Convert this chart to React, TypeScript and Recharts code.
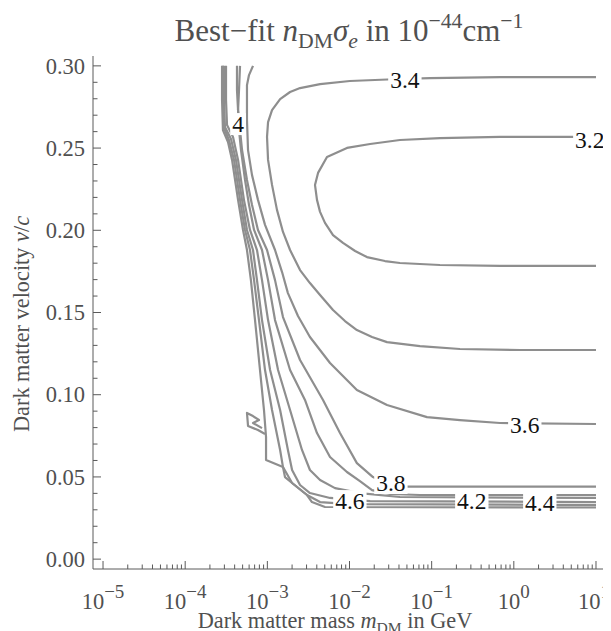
import React from 'react';
import { ScatterChart, Scatter, XAxis, YAxis } from 'recharts';

const W = 603;
const H = 623;
const FONT = "'Liberation Serif', 'Times New Roman', Times, serif";
const TEXT = '#505050';
const FRAME = '#5a5a5a';
const LINE = '#8e8e8e';

// axis domains (mass in GeV, velocity in c)
const MASS_DOMAIN = [7.55e-6, 13.24];
const VEL_DOMAIN = [-0.006, 0.306];

// tick definitions
const majorMasses = [1e-5, 1e-4, 1e-3, 1e-2, 1e-1, 1, 10];
const majorMassExp = ['\u22125', '\u22124', '\u22123', '\u22122', '\u22121', '0', '1'];
const minorMultipliers = [2, 3, 4, 5, 6, 7, 8, 9];
const velTicks = [0, 0.01, 0.02, 0.03, 0.04, 0.05, 0.06, 0.07, 0.08, 0.09, 0.1, 0.11, 0.12, 0.13, 0.14, 0.15, 0.16, 0.17, 0.18, 0.19, 0.2, 0.21, 0.22, 0.23, 0.24, 0.25, 0.26, 0.27, 0.28, 0.29, 0.3];
const velMajor = [0, 0.05, 0.1, 0.15, 0.2, 0.25, 0.3];
const velMajorLabels = ['0.00', '0.05', '0.10', '0.15', '0.20', '0.25', '0.30'];

// contour 3.2
const c32Mass = [10, 0.678, 0.126, 0.0411, 0.0178, 0.00931, 0.00532, 0.00414, 0.0038, 0.00402, 0.00438, 0.00503, 0.0063, 0.00833, 0.0117, 0.0163, 0.027, 0.0411, 0.126, 0.678, 10];
const c32Vel = [0.2568, 0.2568, 0.2561, 0.2549, 0.2525, 0.2501, 0.2446, 0.2349, 0.2276, 0.2185, 0.2112, 0.2045, 0.1971, 0.1923, 0.1874, 0.1837, 0.1813, 0.1801, 0.1789, 0.1783, 0.1783];
// contour 3.4
const c34Mass = [10, 0.678, 0.0955, 0.0411, 0.0101, 0.00438, 0.0025, 0.00189, 0.00143, 0.00114, 0.00102, 0.000991, 0.00102, 0.00114, 0.00131, 0.00155, 0.00189, 0.0025, 0.0033, 0.00438, 0.0063, 0.00881, 0.0123, 0.0188, 0.0286, 0.0721, 0.221, 1.19, 10];
const c34Vel = [0.2932, 0.2932, 0.2926, 0.292, 0.2908, 0.2889, 0.2865, 0.2841, 0.2798, 0.2731, 0.2658, 0.2568, 0.2428, 0.2276, 0.2124, 0.199, 0.188, 0.1758, 0.1679, 0.1606, 0.1515, 0.1448, 0.1393, 0.1351, 0.132, 0.1296, 0.1278, 0.1272, 0.1272];
// contour 3.6
const c36Mass = [6.69e-4, 5.98e-4, 5.65e-4, 5.65e-4, 5.65e-4, 5.82e-4, 6.5e-4, 7.69e-4, 9.37e-4, 1.24e-3, 1.51e-3, 1.78e-3, 2.36e-3, 3.3e-3, 5.79e-3, 1.23e-2, 2.86e-2, 8.77e-2, 0.221, 0.678, 10];
const c36Vel = [0.3, 0.2944, 0.2883, 0.2835, 0.2671, 0.2488, 0.2337, 0.2185, 0.2033, 0.188, 0.1746, 0.1618, 0.1479, 0.1351, 0.1193, 0.1029, 0.0937, 0.0864, 0.0846, 0.0828, 0.0822];
// contour 3.8
const c38Mass = [4.65e-4, 4.52e-4, 4.4e-4, 4.65e-4, 4.92e-4, 5.65e-4, 6.5e-4, 7.69e-4, 9.91e-4, 1.24e-3, 1.55e-3, 2.5e-3, 4.76e-3, 7.66e-3, 1.23e-2, 1.93e-2, 3.11e-2, 5.01e-2, 0.678, 10];
const c38Vel = [0.3, 0.2853, 0.2731, 0.261, 0.2488, 0.2306, 0.2155, 0.2002, 0.188, 0.1697, 0.1472, 0.1211, 0.0968, 0.0767, 0.0584, 0.0499, 0.0451, 0.0441, 0.0441, 0.0441];
// contour 4.0
const c40Mass = [4.27e-4, 4.27e-4, 4.4e-4, 4.52e-4, 4.78e-4, 5.35e-4, 5.98e-4, 6.89e-4, 8.61e-4, 1.02e-3, 1.24e-3, 1.89e-3, 2.87e-3, 4.02e-3, 5.79e-3, 9.31e-3, 1.34e-2, 1.88e-2, 3.11e-2, 7.21e-2, 10];
const c40Vel = [0.3, 0.2853, 0.2731, 0.261, 0.2488, 0.2306, 0.2155, 0.2002, 0.188, 0.1697, 0.1454, 0.115, 0.0968, 0.0767, 0.0621, 0.053, 0.0475, 0.042, 0.0396, 0.039, 0.039];
// contour 4.2
const c42Mass = [3.14e-4, 3.14e-4, 3.23e-4, 3.82e-4, 4.4e-4, 5.19e-4, 6.15e-4, 7.48e-4, 8.61e-4, 1.02e-3, 1.35e-3, 1.89e-3, 2.64e-3, 3.3e-3, 4.38e-3, 6.66e-3, 1.34e-2, 4.11e-2, 10];
const c42Vel = [0.3, 0.2792, 0.264, 0.2568, 0.2428, 0.2185, 0.2002, 0.188, 0.1697, 0.1454, 0.115, 0.0907, 0.0664, 0.0542, 0.0481, 0.0432, 0.0402, 0.0378, 0.0372];
// contour 4.4
const c44Mass = [2.97e-4, 2.97e-4, 3.05e-4, 3.61e-4, 4.15e-4, 4.92e-4, 5.65e-4, 6.69e-4, 7.48e-4, 8.61e-4, 1.08e-3, 1.43e-3, 1.78e-3, 2.0e-3, 2.5e-3, 3.3e-3, 5.79e-3, 1.78e-2, 10];
const c44Vel = [0.3, 0.2792, 0.2628, 0.2555, 0.2428, 0.2185, 0.2002, 0.188, 0.1697, 0.1454, 0.115, 0.0907, 0.0664, 0.0542, 0.0451, 0.0402, 0.0372, 0.0353, 0.0347];
// contour 4.6
const c46Mass = [2.88e-4, 2.88e-4, 2.97e-4, 3.41e-4, 3.93e-4, 4.65e-4, 5.35e-4, 6.15e-4, 6.89e-4, 7.91e-4, 9.37e-4, 1.14e-3, 1.43e-3, 1.55e-3, 2.0e-3, 3.04e-3, 4.38e-3, 1.01e-2, 10];
const c46Vel = [0.3, 0.2792, 0.2622, 0.2549, 0.2428, 0.2185, 0.2002, 0.188, 0.1697, 0.1454, 0.115, 0.0907, 0.0664, 0.056, 0.0463, 0.039, 0.0347, 0.0335, 0.0329];
// contour 4.8
const c48Mass = [2.81e-4, 2.81e-4, 2.88e-4, 3.32e-4, 3.72e-4, 4.4e-4, 5.06e-4, 5.65e-4, 6.31e-4, 7.08e-4, 8.14e-4, 9.1e-4, 9.64e-4, 9.64e-4, 1.55e-3, 1.64e-3, 2.0e-3, 3.04e-3, 3.49e-3, 5.03e-3, 10];
const c48Vel = [0.3, 0.2792, 0.261, 0.2537, 0.2428, 0.2185, 0.2002, 0.188, 0.1697, 0.1454, 0.115, 0.0907, 0.0743, 0.0603, 0.056, 0.0499, 0.0463, 0.039, 0.0347, 0.0317, 0.0314];
// small island near the left edge of the valid region
const c50Mass = [9.37e-4, 7.69e-4, 5.82e-4, 5.65e-4, 6.69e-4, 7.91e-4, 6.69e-4, 8.61e-4];
const c50Vel = [0.0761, 0.0785, 0.081, 0.0889, 0.087, 0.0846, 0.0828, 0.0797];

const contours = [
  { level: '3.2', mass: c32Mass, vel: c32Vel },
  { level: '3.4', mass: c34Mass, vel: c34Vel },
  { level: '3.6', mass: c36Mass, vel: c36Vel },
  { level: '3.8', mass: c38Mass, vel: c38Vel },
  { level: '4.0', mass: c40Mass, vel: c40Vel },
  { level: '4.2', mass: c42Mass, vel: c42Vel },
  { level: '4.4', mass: c44Mass, vel: c44Vel },
  { level: '4.6', mass: c46Mass, vel: c46Vel },
  { level: '4.8', mass: c48Mass, vel: c48Vel },
  { level: '5.0', mass: c50Mass, vel: c50Vel },
];

// contour labels
const labelTexts = ['3.4', '3.2', '4', '3.6', '3.8', '4.6', '4.2', '4.4'];
const labelMass = [0.0472, 8.41, 4.4e-4, 1.36, 0.0319, 0.0101, 0.308, 2.07];
const labelVel = [0.2914, 0.2549, 0.2646, 0.0816, 0.0463, 0.0353, 0.0353, 0.0341];

const massTicks: number[] = [];
majorMasses.forEach((mj) => {
  massTicks.push(mj);
  if (mj < 10) minorMultipliers.forEach((k) => massTicks.push(k * mj));
});

const majorIdx = (v: number) => majorMasses.findIndex((t) => Math.abs(v / t - 1) < 1e-6);
const velIdx = (v: number) => velMajor.findIndex((t) => Math.abs(t - v) < 1e-9);

const MAJ = 8;
const MIN = 4.5;
const FS = 22.5;
const SUP = 19;
const tStyle = { fontFamily: FONT };

const XTickBottom = (p: any) => {
  const { x, y, payload } = p;
  const i = majorIdx(Number(payload.value));
  if (i < 0) {
    return <line x1={x} x2={x} y1={y} y2={y - MIN} stroke={FRAME} strokeWidth={1} />;
  }
  const exp = majorMassExp[i];
  const supW = exp.length > 1 ? 1.064 : 0.5;
  const total = FS + supW * SUP;
  const x0 = Math.min(x - total / 2, W - 1 - total);
  return (
    <g>
      <line x1={x} x2={x} y1={y} y2={y - MAJ} stroke={FRAME} strokeWidth={1} />
      <text x={x0} y={y + 40} fontSize={FS} fill={TEXT} fontFamily={FONT} style={tStyle}>
        10
      </text>
      <text x={x0 + FS} y={y + 29} fontSize={SUP} fill={TEXT} fontFamily={FONT} style={tStyle}>
        {exp}
      </text>
    </g>
  );
};
const XTickTop = (p: any) => {
  const { x, y, payload } = p;
  const major = majorIdx(Number(payload.value)) >= 0;
  return <line x1={x} x2={x} y1={y} y2={y + (major ? MAJ : MIN)} stroke={FRAME} strokeWidth={1} />;
};
const YTickLeft = (p: any) => {
  const { x, y, payload } = p;
  const i = velIdx(payload.value);
  const major = i >= 0;
  return (
    <g>
      <line x1={x} x2={x + (major ? MAJ : MIN)} y1={y} y2={y} stroke={FRAME} strokeWidth={1} />
      {major && (
        <text x={x - 8} y={y} dy="0.34em" textAnchor="end" fontSize={FS} fill={TEXT} fontFamily={FONT} style={tStyle}>
          {velMajorLabels[i]}
        </text>
      )}
    </g>
  );
};
const YTickRight = (p: any) => {
  const { x, y, payload } = p;
  const major = velIdx(payload.value) >= 0;
  return <line x1={x} x2={x - (major ? MAJ : MIN)} y1={y} y2={y} stroke={FRAME} strokeWidth={1} />;
};

const NoDot = () => <g />;

const LabelShape = (p: any) => {
  const { cx, cy, payload } = p;
  const fs = 23.5;
  const t: string = payload.text;
  let w = 0;
  for (const ch of t) w += ch === '.' ? 0.25 : 0.5;
  const bw = w * fs + 4;
  return (
    <g>
      <rect x={cx - bw / 2} y={cy - 11} width={bw} height={22} fill="#ffffff" />
      <text x={cx} y={cy} dy="0.34em" textAnchor="middle" fontSize={fs} fill="#111" fontFamily={FONT} style={tStyle}>
        {t}
      </text>
    </g>
  );
};

export default function App() {
  const labelData = labelTexts.map((text, i) => ({ m: labelMass[i], v: labelVel[i], text }));
  return (
    <div style={{ position: 'relative', width: W, height: H, fontFamily: FONT, color: TEXT }}>
      <ScatterChart width={W} height={H} margin={{ top: 48, right: 5, bottom: 2, left: 5 }} style={{ fontFamily: FONT }}>
        <XAxis
          xAxisId="b"
          dataKey="m"
          type="number"
          scale="log"
          domain={MASS_DOMAIN}
          allowDataOverflow
          ticks={massTicks}
          interval={0}
          tick={XTickBottom}
          tickLine={false}
          tickSize={0}
          tickMargin={0}
          axisLine={{ stroke: FRAME, strokeWidth: 1 }}
          height={60}
          orientation="bottom"
        />
        <XAxis
          xAxisId="t"
          dataKey="m"
          type="number"
          scale="log"
          domain={MASS_DOMAIN}
          allowDataOverflow
          ticks={massTicks}
          interval={0}
          tick={XTickTop}
          tickLine={false}
          tickSize={0}
          tickMargin={0}
          axisLine={{ stroke: FRAME, strokeWidth: 1 }}
          height={0}
          orientation="top"
        />
        <YAxis
          yAxisId="l"
          dataKey="v"
          type="number"
          domain={VEL_DOMAIN}
          allowDataOverflow
          ticks={velTicks}
          interval={0}
          tick={YTickLeft}
          tickLine={false}
          tickSize={0}
          tickMargin={0}
          axisLine={{ stroke: FRAME, strokeWidth: 1 }}
          width={80}
          orientation="left"
        />
        <YAxis
          yAxisId="r"
          dataKey="v"
          type="number"
          domain={VEL_DOMAIN}
          allowDataOverflow
          ticks={velTicks}
          interval={0}
          tick={YTickRight}
          tickLine={false}
          tickSize={0}
          tickMargin={0}
          axisLine={{ stroke: FRAME, strokeWidth: 1 }}
          width={0}
          orientation="right"
        />
        {contours.map((c) => (
          <Scatter
            key={c.level}
            xAxisId="b"
            yAxisId="l"
            data={c.mass.map((m, i) => ({ m, v: c.vel[i] }))}
            fill={LINE}
            line={{ stroke: LINE, strokeWidth: 2.2, strokeLinejoin: 'round' }}
            lineType="joint"
            shape={NoDot}
            isAnimationActive={false}
          />
        ))}
        <Scatter
          xAxisId="b"
          yAxisId="l"
          data={labelData}
          fill="#000"
          shape={LabelShape}
          isAnimationActive={false}
        />
      </ScatterChart>
      <div
        style={{
          position: 'absolute',
          left: 41,
          width: 600,
          top: -6,
          textAlign: 'center',
          fontSize: 31,
          lineHeight: '38px',
          whiteSpace: 'nowrap',
        }}
      >
        Best{'\u2212'}fit <i>n</i>
        <span style={{ fontSize: '0.7em', verticalAlign: '-0.3em' }}>DM</span>
        <i>σ</i>
        <span style={{ fontSize: '0.7em', verticalAlign: '-0.3em' }}>
          <i>e</i>
        </span>{' '}
        in 10<span style={{ fontSize: '0.7em', verticalAlign: '0.6em' }}>{'\u2212'}44</span>cm
        <span style={{ fontSize: '0.7em', verticalAlign: '0.6em' }}>{'\u2212'}1</span>
      </div>
      <div
        style={{
          position: 'absolute',
          left: 27,
          width: 600,
          top: 598,
          textAlign: 'center',
          fontSize: 22.3,
          lineHeight: '30px',
          whiteSpace: 'nowrap',
        }}
      >
        Dark matter mass <i>m</i>
        <span style={{ fontSize: '0.7em', verticalAlign: '-0.3em' }}>DM</span> in GeV
      </div>
      <div
        style={{
          position: 'absolute',
          left: 14 - 200,
          width: 400,
          top: 316 - 15,
          textAlign: 'center',
          fontSize: 22.3,
          lineHeight: '30px',
          whiteSpace: 'nowrap',
          transform: 'rotate(-90deg)',
        }}
      >
        Dark matter velocity <i>v</i>/<i>c</i>
      </div>
    </div>
  );
}
